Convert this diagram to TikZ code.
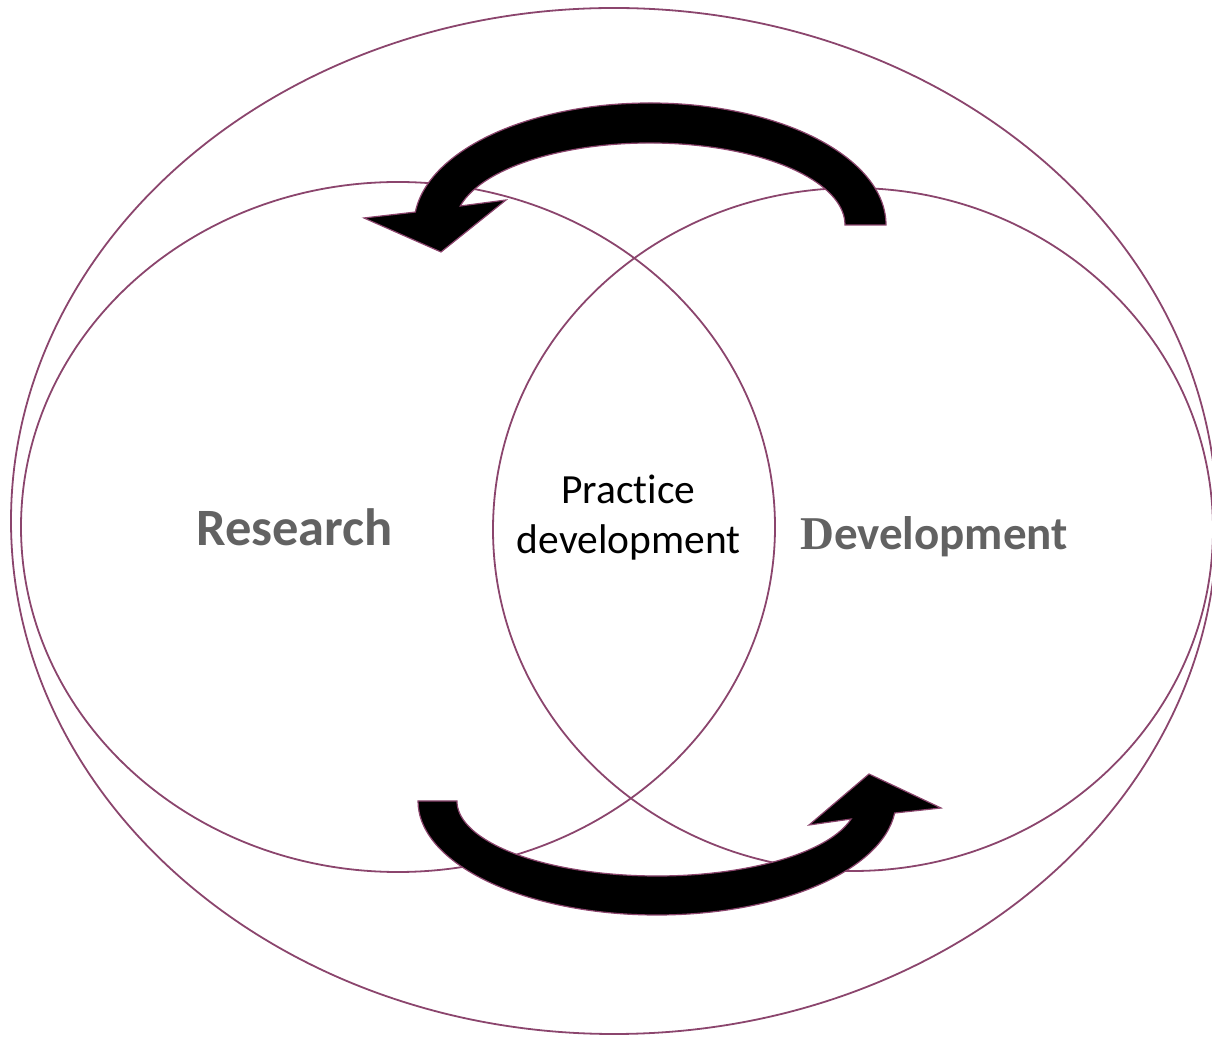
\documentclass[tikz,border=0pt]{standalone}
\usepackage{fontspec}
\setmainfont{Carlito}[Ligatures={NoCommon,NoRare,NoDiscretionary}]
\newfontfamily\dserif{Liberation Serif}
\definecolor{rim}{RGB}{139,69,109}
\definecolor{labelgray}{RGB}{98,98,98}
\tikzset{
  ring/.style={draw=rim, line width=1.8pt},
  bentarrow/.style={fill=black, draw=rim, line width=1.2pt, line join=miter},
  biglabel/.style={text=labelgray, inner sep=0pt, anchor=base},
}
\begin{document}
\begin{tikzpicture}[x=1pt,y=1pt]
\useasboundingbox (0,0) rectangle (1212,1036);
\clip (0,0) rectangle (1212,1036);
% ellipses
\draw[ring] (614,515) ellipse [x radius=603, y radius=513];
\draw[ring] (398,509) ellipse [x radius=377, y radius=345];
\draw[ring] (853,506.5) ellipse [x radius=360, y radius=341.5];
% top arrow (right to left)
\coordinate (ta) at (886,811);
\filldraw[bentarrow] (ta) arc [start angle=0, end angle=173.9, x radius=236, y radius=122]
  -- (364,818) -- (441,784) -- (506,836) -- (460.3,830)
  arc [start angle=166.6, end angle=0, x radius=195, y radius=82] -- cycle;
% bottom arrow (left to right)
\coordinate (ba) at (418,235);
\filldraw[bentarrow] (ba) arc [start angle=180, end angle=353.95, x radius=239, y radius=114]
  -- (941,228) -- (869,262) -- (809,211) -- (851.1,217)
  arc [start angle=346.1, end angle=180, x radius=200, y radius=75] -- cycle;
% labels
\node[biglabel, font=\fontsize{52.5}{60}\selectfont\bfseries] (res) at (294.5,490) {Research};
\node[biglabel, font=\fontsize{47}{55}\selectfont\bfseries] (dev) at (934,486) {{\dserif D}evelopment};
\node[inner sep=0pt, anchor=base, font=\fontsize{41.5}{50}\selectfont] (pd) at (628.5,532)
  {\vtop{\halign{\hfil#\hfil\cr Practice\cr development\cr}}};
\end{tikzpicture}
\end{document}
